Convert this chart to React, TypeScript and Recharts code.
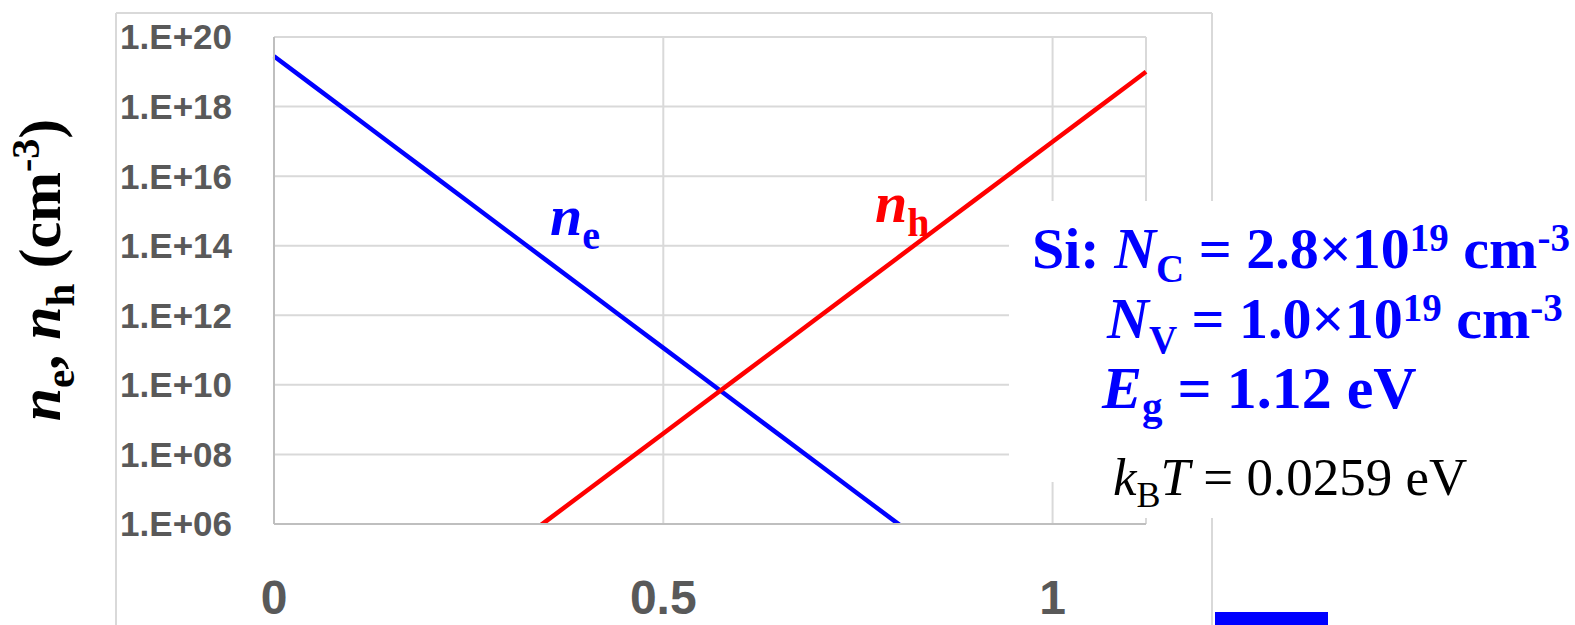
import React from 'react'
import { CartesianGrid, Line, LineChart, XAxis, YAxis } from 'recharts'

// E_C - E_F (eV)
const X_EV = [
  0, 0.05, 0.1, 0.15, 0.2, 0.25, 0.3, 0.35, 0.4, 0.45, 0.5, 0.55, 0.6, 0.65, 0.7, 0.75, 0.8, 0.85,
  0.9, 0.95, 1.0, 1.05, 1.1, 1.12
]
// electrons (cm^-3)
const N_E = [
  2.8e19, 4.06e18, 5.89e17, 8.55e16, 1.24e16, 1.8e15, 2.61e14, 3.79e13, 5.49e12, 7.97e11, 1.16e11,
  1.68e10, 2.43e9, 3.53e8, 5.12e7, 7.43e6, 1.08e6, 1.56e5, null, null, null, null, null, null
]
// holes (cm^-3)
const N_H = [
  null, null, null, null, null, null, 1.78e5, 1.23e6, 8.45e6, 5.82e7, 4.01e8, 2.77e9, 1.91e10,
  1.31e11, 9.06e11, 6.25e12, 4.31e13, 2.97e14, 2.05e15, 1.41e16, 9.73e16, 6.7e17, 4.62e18, 1.0e19
]
const X_TICKS = [0, 0.5, 1]
const Y_TICKS = [1e6, 1e8, 1e10, 1e12, 1e14, 1e16, 1e18, 1e20]

const dados = X_EV.map((x, i) => ({ x, ne: N_E[i], nh: N_H[i] }))

const SERIF = '"Liberation Serif", "Times New Roman", serif'
const SANS = '"Liberation Sans", Arial, sans-serif'
const AZUL = '#0000ff'
const VERMELHO = '#ff0000'
const GRADE = '#d9d9d9'
const EIXO = '#bfbfbf'
const TEXTO_EIXO = '#595959'

const rotuloY = (v: number) => `1.E+${String(Math.round(Math.log10(v))).padStart(2, '0')}`

export default function App(): React.JSX.Element {
  return (
    <div
      style={{
        position: 'absolute',
        left: 0,
        top: 0,
        width: 1575,
        height: 625,
        overflow: 'hidden',
        background: '#fff'
      }}
    >
      <LineChart width={1575} height={625} data={dados} margin={{ top: 37, right: 429, bottom: 0, left: 0 }}>
        <CartesianGrid stroke={GRADE} strokeWidth={2} />
        <XAxis
          type="number"
          dataKey="x"
          domain={[0, 1.12]}
          ticks={X_TICKS}
          height={101}
          tickLine={false}
          tickSize={0}
          tickMargin={56}
          axisLine={{ stroke: EIXO, strokeWidth: 2 }}
          tick={{ fill: TEXTO_EIXO, fontSize: 48, fontWeight: 'bold', fontFamily: SANS }}
        />
        <YAxis
          scale="log"
          domain={[1e6, 1e20]}
          ticks={Y_TICKS}
          allowDataOverflow
          width={274}
          tickLine={false}
          tickSize={0}
          tickMargin={42}
          axisLine={{ stroke: EIXO, strokeWidth: 2 }}
          tickFormatter={rotuloY}
          tick={{ fill: TEXTO_EIXO, fontSize: 35, fontWeight: 'bold', fontFamily: SANS }}
        />
        <Line
          dataKey="ne"
          stroke={AZUL}
          strokeWidth={4.5}
          dot={false}
          activeDot={false}
          isAnimationActive={false}
        />
        <Line
          dataKey="nh"
          stroke={VERMELHO}
          strokeWidth={4.5}
          dot={false}
          activeDot={false}
          isAnimationActive={false}
        />
      </LineChart>

      <svg
        width={1575}
        height={625}
        style={{ position: 'absolute', left: 0, top: 0, pointerEvents: 'none' }}
      >
        {/* moldura externa */}
        <line x1={116} y1={13} x2={116} y2={625} stroke={GRADE} strokeWidth={2} />
        <line x1={116} y1={13} x2={1212} y2={13} stroke={GRADE} strokeWidth={2} />
        <line x1={1212} y1={13} x2={1212} y2={625} stroke={GRADE} strokeWidth={2} />

        {/* caixas de texto */}
        <rect x={1009} y={201} width={566} height={281} fill="#fff" />
        <rect x={1100} y={482} width={475} height={36} fill="#fff" />
        <rect x={1215} y={612} width={113} height={13} fill={AZUL} />

        {/* título do eixo Y */}
        <text
          transform="translate(60,270) rotate(-90)"
          textAnchor="middle"
          fontFamily={SERIF}
          fontWeight="bold"
          fontSize={60}
          fill="#000"
          style={{ whiteSpace: 'pre' }}
        >
          <tspan fontStyle="italic">n</tspan>
          <tspan dy={14} fontSize={41}>e</tspan>
          <tspan dy={-14}>, </tspan>
          <tspan fontStyle="italic">n</tspan>
          <tspan dy={14} fontSize={41}>h</tspan>
          <tspan dy={-14}> (cm</tspan>
          <tspan dy={-21} fontSize={40}>-3</tspan>
          <tspan dy={21}>)</tspan>
        </text>

        {/* rótulos das curvas */}
        <text x={550} y={235} fontFamily={SERIF} fontWeight="bold" fontSize={58} fill={AZUL}>
          <tspan fontStyle="italic">n</tspan>
          <tspan dy={14} fontSize={40}>e</tspan>
        </text>
        <text x={875} y={222} fontFamily={SERIF} fontWeight="bold" fontSize={58} fill={VERMELHO}>
          <tspan fontStyle="italic">n</tspan>
          <tspan dy={14} fontSize={40}>h</tspan>
        </text>

        {/* parâmetros do Si */}
        <g fontFamily={SERIF} fontWeight="bold" fontSize={58} fill={AZUL} style={{ whiteSpace: 'pre' }}>
          <text x={1032} y={268}>
            <tspan>Si: </tspan>
            <tspan fontStyle="italic">N</tspan>
            <tspan dy={14} fontSize={39}>C</tspan>
            <tspan dy={-14}> = 2.8×10</tspan>
            <tspan dy={-17} fontSize={39}>19</tspan>
            <tspan dy={17}> cm</tspan>
            <tspan dy={-17} fontSize={39}>-3</tspan>
          </text>
          <text x={1107} y={338}>
            <tspan fontStyle="italic">N</tspan>
            <tspan dy={15} fontSize={39}>V</tspan>
            <tspan dy={-15}> = 1.0×10</tspan>
            <tspan dy={-17} fontSize={39}>19</tspan>
            <tspan dy={17}> cm</tspan>
            <tspan dy={-17} fontSize={39}>-3</tspan>
          </text>
          <text x={1102} y={408} fontSize={60}>
            <tspan fontStyle="italic">E</tspan>
            <tspan dy={12} fontSize={41}>g</tspan>
            <tspan dy={-12}> = 1.12 eV</tspan>
          </text>
        </g>
        <text x={1113} y={495} fontFamily={SERIF} fontSize={53} fill="#000" style={{ whiteSpace: 'pre' }}>
          <tspan fontStyle="italic">k</tspan>
          <tspan dy={12} fontSize={36}>B</tspan>
          <tspan dy={-12} fontStyle="italic">T</tspan>
          <tspan> = 0.0259 eV</tspan>
        </text>
      </svg>
    </div>
  )
}
